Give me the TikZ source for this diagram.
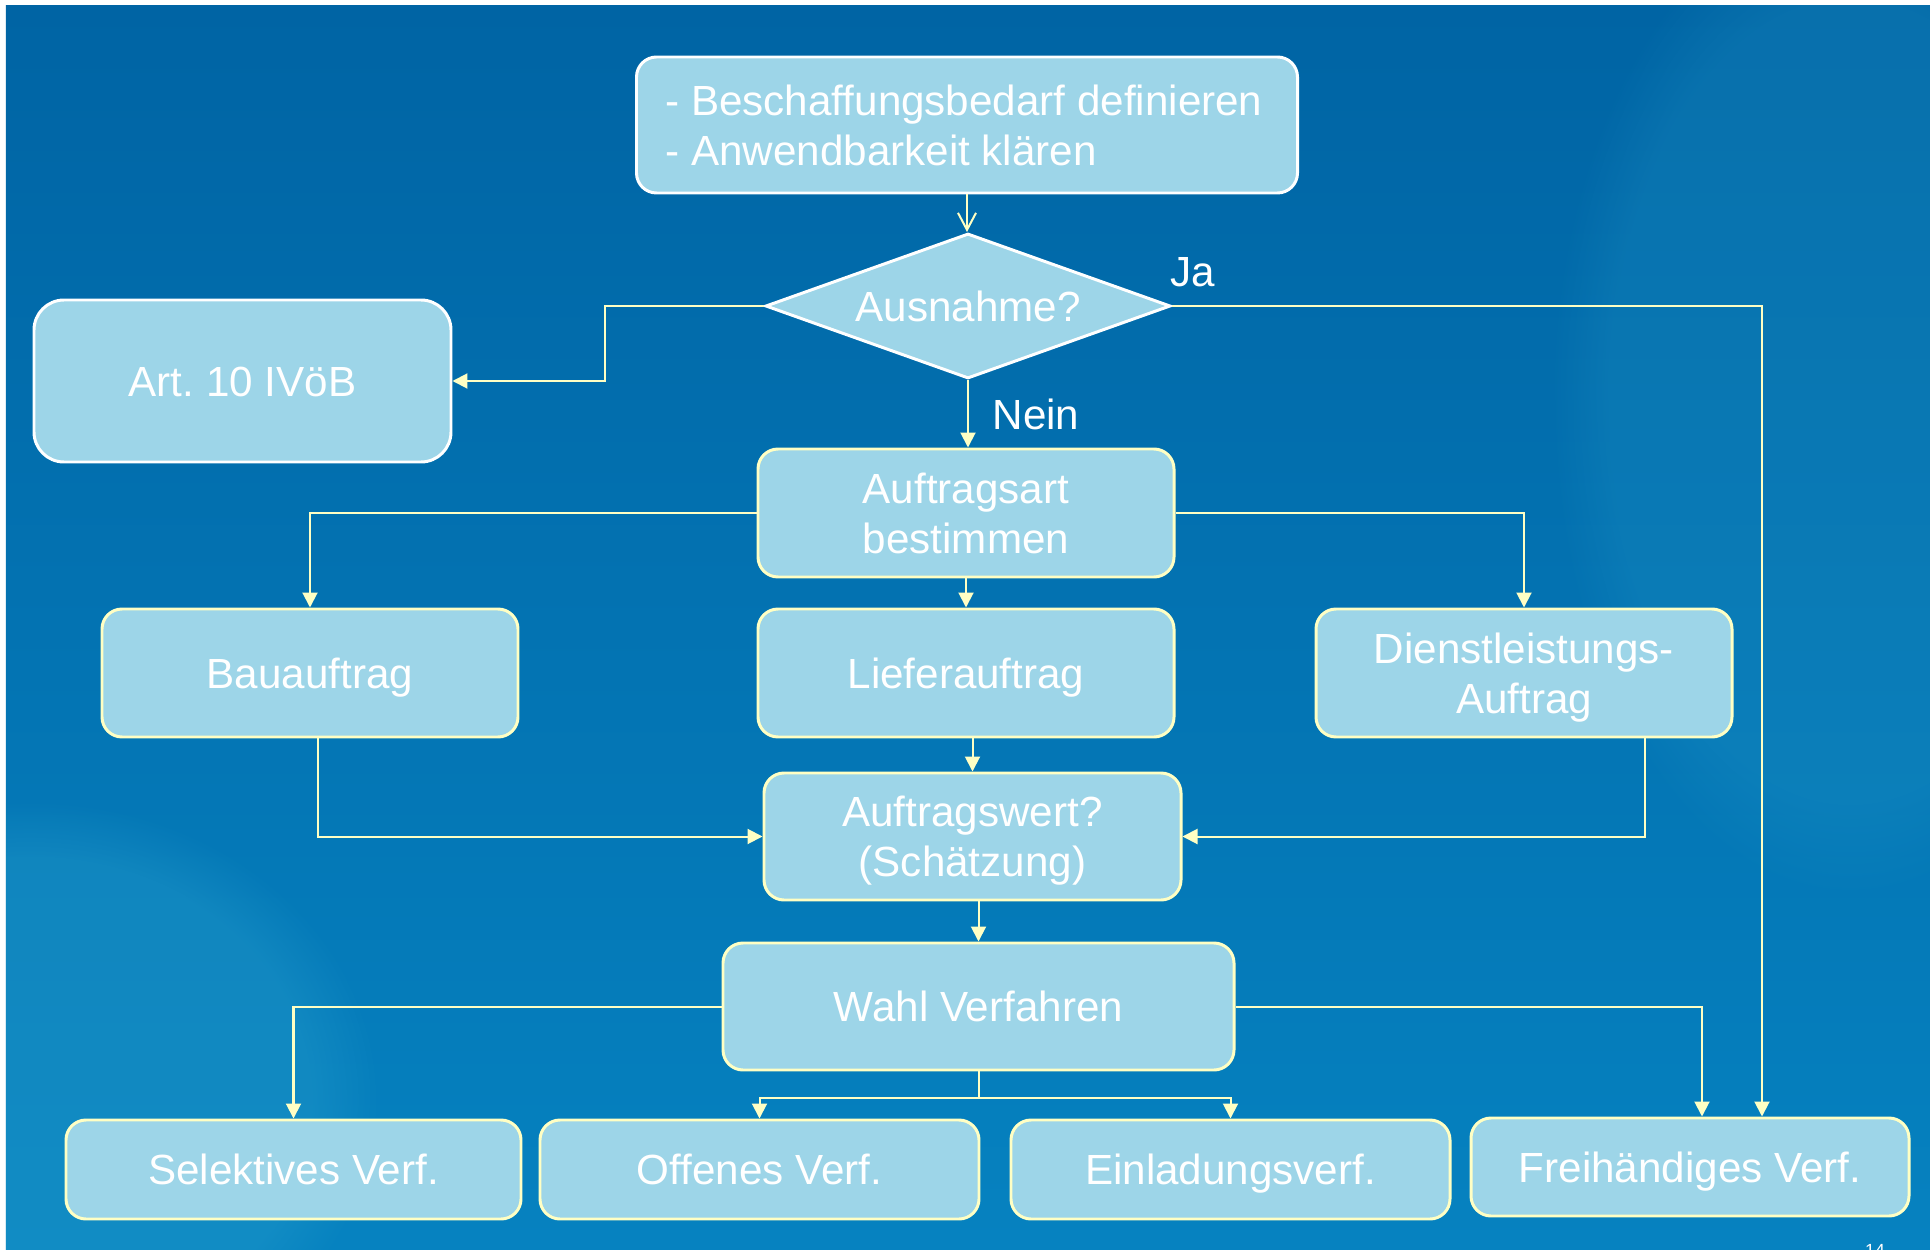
\documentclass[tikz,border=0pt]{standalone}
\usepackage{fontspec}
\setmainfont{Liberation Sans}
\usepackage{xcolor}
\usetikzlibrary{arrows.meta,shapes.geometric,fadings}
\definecolor{boxfill}{RGB}{157,213,232}
\definecolor{linecol}{RGB}{255,255,196}
\definecolor{bgtop}{RGB}{0,100,164}
\definecolor{bgbot}{RGB}{6,130,192}
\definecolor{bglight}{RGB}{40,160,205}
\tikzset{every picture/.style={line width=0.57pt}}

\begin{document}
\begin{tikzpicture}[
  box/.style={draw=linecol, line width=0.85pt, fill=boxfill, rounded corners=2mm,
    text=white, font=\fontsize{12}{14.2}\selectfont, align=center, inner sep=0pt,
    text height=8.6pt, text depth=0pt},
  twoline/.style={text height=22.8pt},
  whitebox/.style={box, draw=white},
  question/.style={box, draw=white, diamond, sharp corners, aspect=2.8,
    minimum width=4.05cm, minimum height=1.45cm},
  conn/.style={draw=linecol, -{Triangle[length=1.5mm,width=1.5mm]}},
  lbl/.style={text=white, font=\fontsize{12}{14.2}\selectfont, inner sep=0pt}
]
\useasboundingbox (0,0) rectangle (19.3,-12.5);
\fill[white] (0,0) rectangle (19.3,-12.5);
\begin{scope}
\clip (0.06,-0.06) rectangle (19.3,-12.5);
\shade[top color=bgtop, bottom color=bgbot] (0.06,-0.06) rectangle (19.3,-12.5);
\fill[bglight, path fading=circle with fuzzy edge 20 percent, fill opacity=0.35] (0.3,-11) ellipse (3.5 and 3);
\fill[bglight, path fading=circle with fuzzy edge 20 percent, fill opacity=0.2] (18.5,-4) ellipse (3 and 5);
\end{scope}
%
\node[whitebox, twoline, align=left, minimum width=6.61cm, minimum height=1.36cm] (top) at (9.67,-1.25)
  {- Beschaffungsbedarf definieren\hspace*{0.6mm}\\- Anwendbarkeit klären};
\node[question] (dia) at (9.68,-3.06) {Ausnahme?};
\node[whitebox, rounded corners=3mm, minimum width=4.17cm, minimum height=1.62cm] (art10) at (2.425,-3.81) {Art.\ 10 IVöB};
%
\node[box, twoline, minimum width=4.16cm, minimum height=1.28cm] (art) at (9.66,-5.13) {Auftragsart\\bestimmen};
\node[box, minimum width=4.16cm, minimum height=1.28cm] (bau) at (3.10,-6.73) {Bauauftrag};
\node[box, minimum width=4.16cm, minimum height=1.28cm] (liefer) at (9.66,-6.73) {Lieferauftrag};
\node[box, twoline, minimum width=4.16cm, minimum height=1.28cm] (dienst) at (15.24,-6.73) {Dienstleistungs-\\Auftrag};
\node[box, twoline, minimum width=4.17cm, minimum height=1.27cm] (wert) at (9.725,-8.365) {Auftragswert?\\(Schätzung)};
\node[box, minimum width=5.11cm, minimum height=1.27cm] (wahl) at (9.785,-10.065) {Wahl Verfahren};
%
\node[box, minimum width=4.55cm, minimum height=0.99cm] (sel) at (2.935,-11.695) {Selektives Verf.};
\node[box, minimum width=4.39cm, minimum height=0.99cm] (off) at (7.595,-11.695) {Offenes Verf.};
\node[box, minimum width=4.39cm, minimum height=0.99cm] (ein) at (12.305,-11.695) {Einladungsverf.};
\node[box, minimum width=4.38cm, minimum height=0.98cm] (frei) at (16.90,-11.67) {Freihändiges Verf.};
%
\node[lbl] (ja) at (11.93,-2.72) {Ja};
\node[lbl] (nein) at (10.36,-4.14) {Nein};
\node[lbl, font=\fontsize{5}{6}\selectfont, anchor=north] (pnum) at (18.75,-12.43) {14};
%
\draw[linecol, -{Straight Barb[length=1.7mm,width=1.8mm]}] (top.south) -- (top.south |- dia.north);
\draw[conn] (dia.west) -- ++(-1.59,0) |- (art10.east);
\draw[conn] (dia.east) -| ([xshift=7.2mm]frei.north);
\draw[conn] (dia.south) -- (dia.south |- art.north);
%
\draw[conn] (art.west) -| (bau.north);
\draw[conn] (art.east) -| (dienst.north);
\draw[conn] (art.south) -- (liefer.north);
%
\draw[conn] (wert.north |- liefer.south) -- (wert.north);
\draw[conn] ([xshift=0.8mm]bau.south) |- (wert.west);
\draw[conn] ([xshift=12.1mm]dienst.south) |- (wert.east);
\draw[conn] (wahl.north |- wert.south) -- (wahl.north);
%
\draw[conn] (wahl.west) -| (sel.north);
\draw[conn] (wahl.east) -| ([xshift=1.2mm]frei.north);
\draw[conn] (wahl.south) -- ++(0,-0.27) -| (off.north);
\draw[conn] (wahl.south) -- ++(0,-0.27) -| (ein.north);
\end{tikzpicture}
\end{document}
